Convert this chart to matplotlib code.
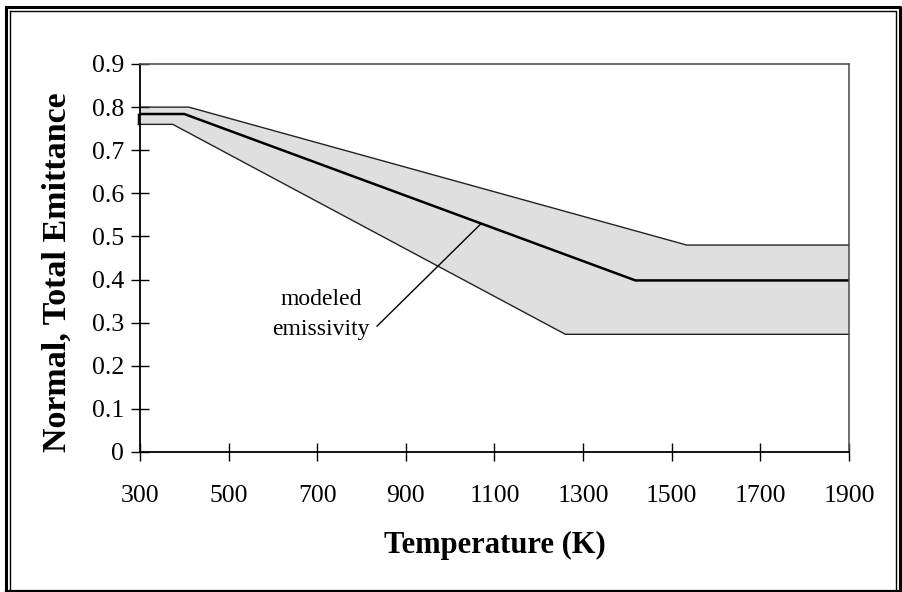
import matplotlib.pyplot as plt
from matplotlib.lines import Line2D

plt.rcParams['font.family'] = ['Liberation Serif', 'DejaVu Serif']

# emittance band (temperature K, emittance)
upper_t = [300, 410, 1534, 1900]
upper_e = [0.80, 0.80, 0.48, 0.48]
model_t = [300, 400, 1418, 1900]
model_e = [0.784, 0.784, 0.398, 0.398]
lower_t = [296, 374, 1260, 1900]
lower_e = [0.76, 0.76, 0.273, 0.273]

x_ticks = [300, 500, 700, 900, 1100, 1300, 1500, 1700, 1900]
y_ticks = [0, 0.1, 0.2, 0.3, 0.4, 0.5, 0.6, 0.7, 0.8, 0.9]
y_labels = ['0', '0.1', '0.2', '0.3', '0.4', '0.5', '0.6', '0.7', '0.8', '0.9']

W, H = 903, 592
fig = plt.figure(figsize=(W / 100, H / 100), dpi=100)
ax = fig.add_axes([140 / W, 1 - 452 / H, 709 / W, 388 / H])

fill_c = '#dfdfdf'
# upper half of band: top edge down to the modeled line
ax.fill(upper_t + model_t[::-1], upper_e + model_e[::-1],
        facecolor=fill_c, edgecolor='none', zorder=1)
# lower half: modeled line down to bottom edge (sticks out a bit on the left)
ax.fill([lower_t[0]] + model_t + lower_t[::-1],
        [model_e[0]] + model_e + lower_e[::-1],
        facecolor=fill_c, edgecolor='none', zorder=1, clip_on=False)
ax.plot([lower_t[0], model_t[0]], [model_e[0], model_e[0]], color='black', lw=1.0, clip_on=False, zorder=2)
ax.plot([lower_t[0], lower_t[0]], [lower_e[0], model_e[0]], color='black', lw=1.0, clip_on=False, zorder=2)

ax.plot(upper_t, upper_e, color='#222222', lw=1.0, zorder=2)
ax.plot(lower_t, lower_e, color='#222222', lw=1.0, zorder=2, clip_on=False)
ax.plot(model_t, model_e, color='black', lw=1.8, zorder=3)

# leader line + label
ax.plot([835, 1070], [0.292, 0.530], color='black', lw=1.0, zorder=4)
ax.text(708, 0.319, 'modeled\nemissivity', ha='center', va='center',
        fontsize=17, linespacing=1.6, zorder=5)

ax.set_xlim(300, 1900)
ax.set_ylim(0, 0.9)
ax.set_xticks(x_ticks)
ax.set_xticklabels([str(t) for t in x_ticks])
ax.set_yticks(y_ticks)
ax.set_yticklabels(y_labels)
ax.tick_params(direction='inout', length=13, width=1.0, labelsize=18.5, color='black')
ax.tick_params(axis='x', pad=17)
ax.tick_params(axis='y', pad=5)

for side in ['left', 'bottom']:
    ax.spines[side].set_color('black')
    ax.spines[side].set_linewidth(1.3)
    ax.spines[side].set_zorder(6)
for side in ['top', 'right']:
    ax.spines[side].set_color('#555555')
    ax.spines[side].set_linewidth(1.2)
    ax.spines[side].set_zorder(6)

fig.text(495 / W, 1 - 545 / H, 'Temperature (K)', ha='center', va='center',
         fontsize=22, fontweight='bold')
fig.text(57 / W, 1 - 272 / H, 'Normal, Total Emittance', ha='center', va='center',
         rotation=90, fontsize=24.5, fontweight='bold')

# double frame around the whole figure
def px_line(xs, ys, lw):
    fig.add_artist(Line2D([x / W for x in xs], [1 - y / H for y in ys],
                          transform=fig.transFigure, color='black', lw=lw))

px_line([6.5, 900, 900], [6.5, 6.5, 591], 2.2)
px_line([6.5, 6.5], [6.5, 591], 2.2)
px_line([10.5, 896.5, 896.5], [10.5, 10.5, 591], 1.0)
px_line([10.5, 10.5], [10.5, 591], 1.0)
px_line([6.5, 900], [590.5, 590.5], 1.6)

fig.savefig('out.png', dpi=100)
